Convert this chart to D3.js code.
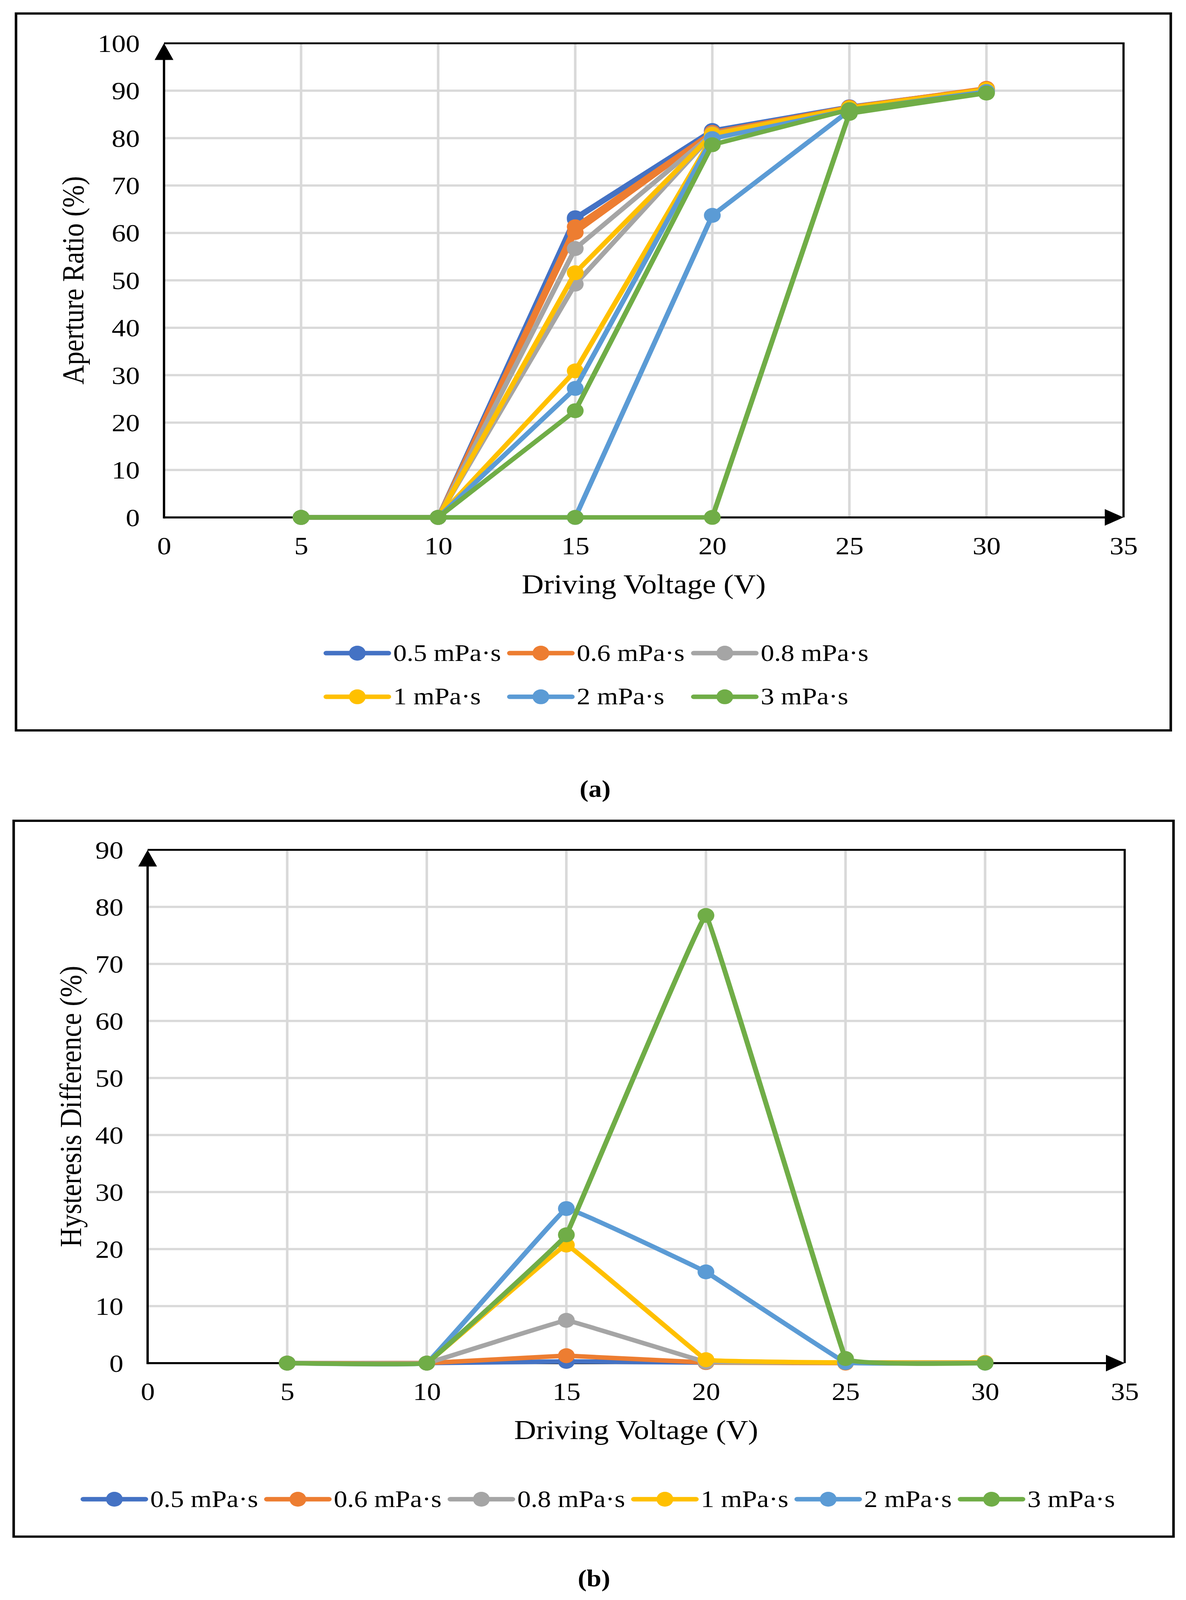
<!DOCTYPE html>
<html lang="en">
<head>
  <meta charset="UTF-8">
  <title>Aperture Ratio and Hysteresis Difference</title>
  <style>
    body { margin: 0; background: #fff; overflow: hidden; }
    svg { display: block; font-family: "Liberation Serif", "Times New Roman", serif; }
    .grid line { stroke: #d9d9d9; stroke-width: 6.5; }
    .tick text { font-size: 72px; fill: #000; font-family: "Liberation Serif", "Times New Roman", serif; }
    .frame { fill: none; stroke: #000; stroke-width: 6.5; }
    .axisTitle { font-size: 78px; fill: #000; }
    .legend text { font-size: 69px; fill: #000; }
    .panelLabel { font-size: 68px; font-weight: bold; fill: #000; }
  </style>
</head>
<body>
  <script src="https://d3js.org/d3.v7.min.js"></script>
  <script>
    // driving voltage (V) shared by every series
    const voltages = [5, 10, 15, 20, 25, 30];
    const viscosities = ['0.5 mPa·s', '0.6 mPa·s', '0.8 mPa·s', '1 mPa·s', '2 mPa·s', '3 mPa·s'];
    const seriesColors = ['#4472C4', '#ED7D31', '#A5A5A5', '#FFC000', '#5B9BD5', '#70AD47'];

    // (a) aperture ratio (%), upper and lower branch of each hysteresis loop
    const apertureUpper = [
      [0, 0, 63.2, 81.6, 86.6, 90.4],
      [0, 0, 61.3, 81.2, 86.5, 90.5],
      [0, 0, 56.7, 80.9, 86.3, 90.1],
      [0, 0, 51.6, 80.8, 86.4, 90.3],
      [0, 0, 27.2, 79.9, 85.9, 89.8],
      [0, 0, 22.5, 78.6, 86.0, 89.5]
    ];
    const apertureLower = [
      [0, 0, 62.9, 81.5, 86.5, 90.3],
      [0, 0, 60.1, 81.1, 86.5, 90.4],
      [0, 0, 49.2, 80.7, 86.2, 90.0],
      [0, 0, 30.9, 80.2, 86.3, 90.2],
      [0, 0, 0, 63.7, 85.8, 89.8],
      [0, 0, 0, 0, 85.2, 89.5]
    ];

    // (b) hysteresis difference (%)
    const hysteresis = [
      [0, 0, 0.3, 0.1, 0.1, 0.1],
      [0, 0, 1.3, 0.1, 0, 0.1],
      [0, 0, 7.5, 0.2, 0.1, 0.1],
      [0, 0, 20.7, 0.6, 0.1, 0.1],
      [0, 0, 27.1, 16.0, 0.1, 0],
      [0, 0, 22.5, 78.5, 0.8, 0]
    ];

    const xTicks = [0, 5, 10, 15, 20, 25, 30, 35];
    const yTicksA = [0, 10, 20, 30, 40, 50, 60, 70, 80, 90, 100];
    const yTicksB = [0, 10, 20, 30, 40, 50, 60, 70, 80, 90];

    // the figure is laid out on a 3037 x 4620 sheet and stretched to the window
    const WIDTH = 3037;
    const HEIGHT = 4620;
    const svg = d3.select('body').append('svg')
      .attr('width', window.innerWidth || WIDTH)
      .attr('height', window.innerHeight || HEIGHT)
      .attr('viewBox', `0 0 ${WIDTH} ${HEIGHT}`)
      .attr('preserveAspectRatio', 'none');

    const LINE_W = 13;
    const MARKER_R = 21.5;
    const ARROW_LEN = 48;
    const ARROW_HALF = 24;

    function drawPanel (p) {
      const x = d3.scaleLinear().domain([0, 35]).range([p.left, p.right]);
      const y = d3.scaleLinear().domain([0, p.yMax]).range([p.bottom, p.top]);
      const g = svg.append('g');

      // outer frame
      g.append('rect').attr('class', 'frame')
        .attr('x', p.box[0]).attr('y', p.box[1])
        .attr('width', p.box[2] - p.box[0]).attr('height', p.box[3] - p.box[1]);

      // gridlines
      const grid = g.append('g').attr('class', 'grid');
      grid.selectAll('line.v')
        .data(xTicks.filter(d => d > 0 && d < 35))
        .join('line').attr('class', 'v')
          .attr('x1', d => x(d)).attr('x2', d => x(d))
          .attr('y1', y(p.yMax)).attr('y2', y(0));
      grid.selectAll('line.h')
        .data(p.yTicks.filter(d => d > 0 && d < p.yMax))
        .join('line').attr('class', 'h')
          .attr('x1', x(0)).attr('x2', x(35))
          .attr('y1', d => y(d)).attr('y2', d => y(d));

      // plot area border (top and right)
      g.append('path')
        .attr('d', `M${x(0)},${y(p.yMax)}H${x(35)}V${y(0)}`)
        .attr('fill', 'none').attr('stroke', '#000').attr('stroke-width', 5.5);

      // tick labels
      const gx = g.append('g')
        .attr('transform', `translate(0,${y(0)})`)
        .call(d3.axisBottom(x).tickValues(xTicks).tickSize(0));
      gx.attr('font-size', null).attr('font-family', null);
      gx.select('.domain').remove();
      gx.selectAll('.tick text').attr('y', p.xLabelOffset).attr('dy', null);

      const gy = g.append('g')
        .attr('transform', `translate(${x(0)},0)`)
        .call(d3.axisLeft(y).tickValues(p.yTicks).tickSize(0).tickPadding(62));
      gy.attr('font-size', null).attr('font-family', null);
      gy.select('.domain').remove();
      gy.selectAll('.tick text').attr('dy', '0.34em');

      // axis lines with arrowheads
      g.append('line')
        .attr('x1', x(0)).attr('x2', x(35) - ARROW_LEN + 2)
        .attr('y1', y(0)).attr('y2', y(0))
        .attr('stroke', '#000').attr('stroke-width', 6);
      g.append('path')
        .attr('d', `M${x(35)},${y(0)}L${x(35) - ARROW_LEN},${y(0) - ARROW_HALF}L${x(35) - ARROW_LEN},${y(0) + ARROW_HALF}Z`)
        .attr('fill', '#000');
      g.append('line')
        .attr('x1', x(0)).attr('x2', x(0))
        .attr('y1', y(0) + 3).attr('y2', y(p.yMax) + ARROW_LEN - 2)
        .attr('stroke', '#000').attr('stroke-width', 6);
      g.append('path')
        .attr('d', `M${x(0)},${y(p.yMax)}L${x(0) - ARROW_HALF},${y(p.yMax) + ARROW_LEN}L${x(0) + ARROW_HALF},${y(p.yMax) + ARROW_LEN}Z`)
        .attr('fill', '#000');

      // series (panel b uses a light smoothing like the spreadsheet's smoothed lines)
      const line = d3.line()
        .x((d, i) => x(voltages[i]))
        .y(d => y(d))
        .curve(p.smooth ? d3.curveCardinal.tension(0.9) : d3.curveLinear);

      p.series.forEach((branches, s) => {
        const sg = g.append('g');
        branches.forEach(values => {
          sg.append('path')
            .attr('d', line(values))
            .attr('fill', 'none')
            .attr('stroke', seriesColors[s])
            .attr('stroke-width', LINE_W)
            .attr('stroke-linejoin', 'round')
            .attr('stroke-linecap', 'round');
        });
        branches.forEach(values => {
          sg.selectAll(null)
            .data(values)
            .join('circle')
              .attr('cx', (d, i) => x(voltages[i]))
              .attr('cy', d => y(d))
              .attr('r', MARKER_R)
              .attr('fill', seriesColors[s]);
        });
      });

      // axis titles
      g.append('text').attr('class', 'axisTitle')
        .attr('x', (p.left + p.right) / 2)
        .attr('y', y(0) + p.xTitleOffset)
        .attr('text-anchor', 'middle')
        .text('Driving Voltage (V)');
      g.append('text').attr('class', 'axisTitle')
        .attr('transform', `translate(${p.yTitleX},${(p.top + p.bottom) / 2}) rotate(-90)`)
        .attr('text-anchor', 'middle')
        .text(p.yTitle);

      // legend
      const lg = g.append('g').attr('class', 'legend');
      const items = lg.selectAll('g')
        .data(viscosities)
        .join('g');
      items.append('line')
        .attr('x1', 0).attr('x2', 160).attr('y1', 0).attr('y2', 0)
        .attr('stroke', (d, i) => seriesColors[i])
        .attr('stroke-width', LINE_W)
        .attr('stroke-linecap', 'round');
      items.append('circle')
        .attr('cx', 80).attr('cy', 0).attr('r', MARKER_R)
        .attr('fill', (d, i) => seriesColors[i]);
      items.append('text')
        .attr('x', 172).attr('y', 0).attr('dy', '0.32em')
        .text(d => d);
      p.placeLegend(items);

      // panel label
      svg.append('text').attr('class', 'panelLabel')
        .attr('x', p.label[0]).attr('y', p.label[1])
        .attr('text-anchor', 'middle')
        .text(p.labelText);
    }

    // (a) legend: 3 columns x 2 rows
    function gridLegend (items) {
      const cols = [835, 1305, 1776];
      const rows = [1886, 2012];
      items.attr('transform', (d, i) => `translate(${cols[i % 3]},${rows[Math.floor(i / 3)]})`);
    }

    // (b) legend: one centred row
    function rowLegend (items) {
      const widths = [];
      items.each(function () {
        widths.push(172 + d3.select(this).select('text').node().getComputedTextLength());
      });
      const gap = 22;
      const total = d3.sum(widths) + gap * (widths.length - 1);
      let cursor = 1534 - total / 2;
      items.attr('transform', (d, i) => {
        const t = `translate(${cursor},4329)`;
        cursor += widths[i] + gap;
        return t;
      });
    }

    drawPanel({
      box: [41, 39, 2998, 2109],
      left: 420, right: 2877, top: 125, bottom: 1494,
      yMax: 100, yTicks: yTicksA,
      xLabelOffset: 106, xTitleOffset: 219,
      yTitle: 'Aperture Ratio (%)', yTitleX: 213,
      series: apertureUpper.map((d, i) => [d, apertureLower[i]]),
      smooth: false,
      placeLegend: gridLegend,
      label: [1524, 2301], labelText: '(a)'
    });

    drawPanel({
      box: [35, 2370, 3005, 4437],
      left: 378, right: 2880, top: 2454, bottom: 3936,
      yMax: 90, yTicks: yTicksB,
      xLabelOffset: 106, xTitleOffset: 219,
      yTitle: 'Hysteresis Difference (%)', yTitleX: 207,
      series: hysteresis.map(d => [d]),
      smooth: true,
      placeLegend: rowLegend,
      label: [1521, 4581], labelText: '(b)'
    });
  </script>
</body>
</html>
